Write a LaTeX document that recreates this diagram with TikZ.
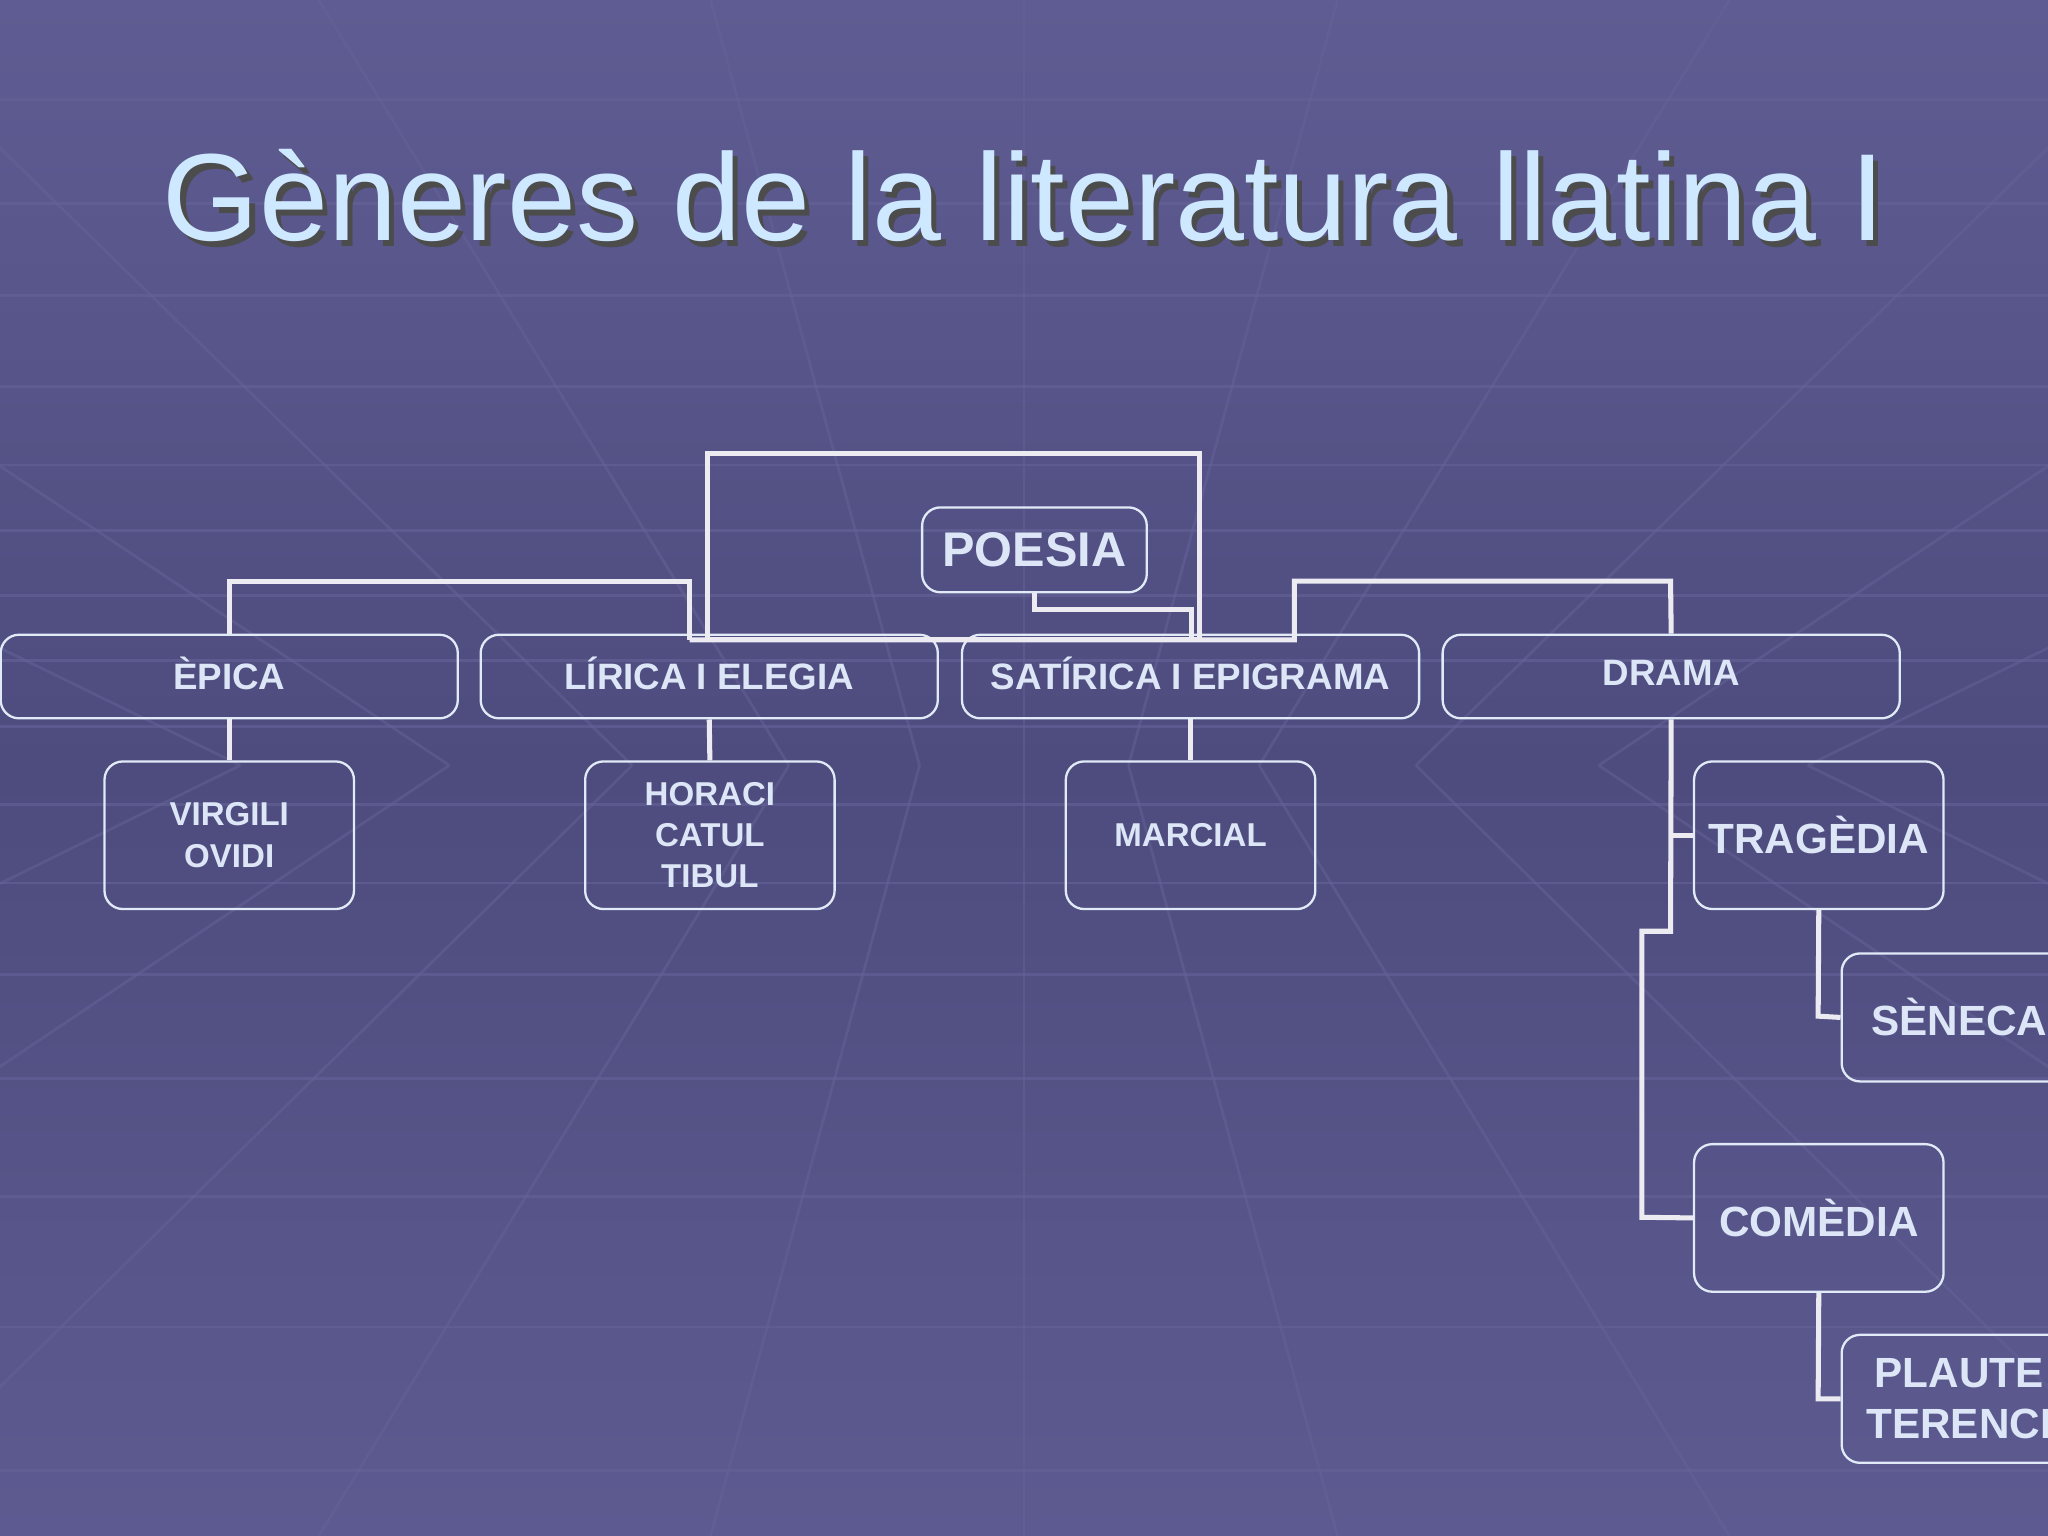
\documentclass[tikz,border=0pt]{standalone}
\usepackage{fontspec}
\setmainfont{Liberation Sans}
\definecolor{bgA}{HTML}{5E5C92}
\definecolor{bgB}{HTML}{4E4C7E}
\definecolor{txt}{HTML}{DCE6F6}
\definecolor{ttl}{HTML}{CDE8FF}
\definecolor{grd}{HTML}{6E6CA2}
\tikzset{
 bx/.style={draw=txt!85,line width=0.5pt,rounded corners=4pt,text=txt,font=\bfseries,align=center,inner sep=0pt},
 ln/.style={draw=white!88!bgA,line width=1.1pt}
}
\begin{document}
\begin{tikzpicture}
\useasboundingbox (0,0) rectangle (15.68,11.76);
\clip (0,0) rectangle (15.68,11.76);
\shade[top color=bgA,bottom color=bgA!90!bgB,middle color=bgB] (0,0) rectangle (15.68,11.76);
\foreach \y in {0.5,1.6,2.6,3.5,4.3,5.0,5.6,6.2,6.7,7.2,7.7,8.2,8.8,9.5,10.2,11.0}
  \draw[grd!70!bgB,line width=0.6pt,opacity=0.6] (0,\y) -- (15.68,\y);
\foreach \x in {-40,-30,-22,-15,-9,-4,0,4,9,15,22,30,40}
  \draw[grd!70!bgB,line width=0.6pt,opacity=0.5] (7.84+\x*0.6,0) -- (7.84+\x*0.2,5.9) (7.84+\x*0.6,11.76) -- (7.84+\x*0.2,5.9);
\node[text=black!70,font=\fontsize{27}{30}\selectfont] at (7.88,10.22) {Gèneres de la literatura llatina I};
\node[text=ttl,font=\fontsize{27}{30}\selectfont] (title) at (7.84,10.26) {Gèneres de la literatura llatina I};
% nodes
\node[bx,minimum width=1.72cm,minimum height=0.65cm,font=\bfseries\fontsize{10.6}{12}\selectfont] (poesia) at (7.92,7.55) {POESIA};
\foreach \n/\t/\x in {epica/ÈPICA/1.755,lirica/LÍRICA I ELEGIA/5.43,satirica/SATÍRICA I EPIGRAMA/9.115,drama/DRAMA/12.795}
  \node[bx,minimum width=3.5cm,minimum height=0.64cm,text depth=0.05cm,font=\bfseries\fontsize{8}{9}\selectfont] (\n) at (\x,6.58) {\t};
\node[bx,minimum width=1.91cm,minimum height=1.13cm,font=\bfseries\fontsize{7.2}{9}\selectfont] (virgili) at (1.755,5.365) {VIRGILI\\OVIDI};
\node[bx,minimum width=1.91cm,minimum height=1.13cm,font=\bfseries\fontsize{7.2}{9}\selectfont] (horaci) at (5.435,5.365) {HORACI\\CATUL\\TIBUL};
\node[bx,minimum width=1.91cm,minimum height=1.13cm,font=\bfseries\fontsize{7.2}{9}\selectfont] (marcial) at (9.115,5.365) {MARCIAL};
\node[bx,minimum width=1.91cm,minimum height=1.13cm,font=\bfseries\fontsize{9.2}{11}\selectfont] (tragedia) at (13.925,5.365) {TRAGÈDIA};
\node[bx,minimum width=1.91cm,minimum height=1.13cm,font=\bfseries\fontsize{9.2}{11}\selectfont] (comedia) at (13.925,2.435) {COMÈDIA};
\node[bx,minimum width=1.8cm,minimum height=0.98cm,font=\bfseries\fontsize{9.2}{11}\selectfont] (seneca) at (15.0,3.97) {SÈNECA};
\node[bx,minimum width=1.8cm,minimum height=0.98cm,font=\bfseries\fontsize{9.2}{11}\selectfont] (plaute) at (15.0,1.05) {PLAUTE\\TERENCI};
% connectors
\draw[ln] (5.28,6.86) -- (5.28,7.31) -- (1.755,7.31) -- (epica.north);
\draw[ln] (5.42,8.29) rectangle (9.18,6.86);
\draw[ln] (5.28,6.86) -- (9.91,6.86) -- (9.91,7.31) -- (12.79,7.31) -- (drama.north);
\draw[ln] (poesia.south) -- (7.92,7.09) -- (9.12,7.09) -- (9.12,6.86);
\draw[ln] (epica.south) -- (virgili.north);
\draw[ln] (lirica.south) -- (horaci.north);
\draw[ln] (satirica.south) -- (marcial.north);
\draw[ln] (drama.south) -- (12.79,4.63) -- (12.57,4.63) -- (12.57,2.44) -- (comedia.west);
\draw[ln] (12.79,5.365) -- (tragedia.west);
\draw[ln] (tragedia.south) -- (13.92,3.98) -- (seneca.west);
\draw[ln] (comedia.south) -- (13.92,1.05) -- (plaute.west);
\end{tikzpicture}
\end{document}
